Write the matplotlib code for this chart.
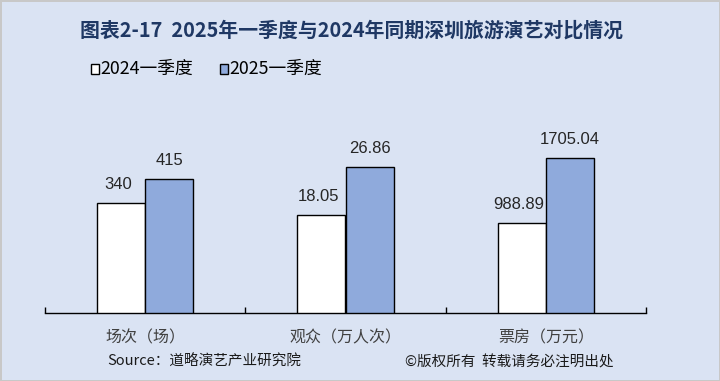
import matplotlib.pyplot as plt

plt.rcParams['font.family'] = ['Noto Sans CJK SC', 'DejaVu Sans']

# data
categories = ['场次（场）', '观众（万人次）', '票房（万元）']
q1_2024 = [340, 18.05, 988.89]
q1_2025 = [415, 26.86, 1705.04]
labels_2024 = ['340', '18.05', '988.89']
labels_2025 = ['415', '26.86', '1705.04']
# each group has its own value scale
axis_max = [566, 33.7, 2010]

title = '图表2-17  2025年一季度与2024年同期深圳旅游演艺对比情况'
series_names = ['2024一季度', '2025一季度']
source = 'Source：道略演艺产业研究院'
copyright_text = '©版权所有  转载请务必注明出处'

bg = '#DAE3F3'
blue = '#8FAADC'
num_font = ['Liberation Sans', 'DejaVu Sans']

fig = plt.figure(figsize=(7.2, 3.81), dpi=100)
fig.patch.set_facecolor(bg)
fig.patch.set_edgecolor('#C8C8C8')
fig.patch.set_linewidth(2)

ax = fig.add_axes([45 / 720, 1 - 313 / 381, 601 / 720, 183 / 381])
ax.set_facecolor('none')
ax.set_xlim(-0.5, 2.5)
ax.set_yticks([])
for s in ['left', 'right', 'top']:
    ax.spines[s].set_visible(False)
ax.spines['bottom'].set_linewidth(1)
ax.set_xticks([-0.5, 0.5, 1.5, 2.5])
ax.set_xticklabels([])
ax.tick_params(axis='x', direction='in', length=4, width=1)
ax.set_xticks(range(3), minor=True)
ax.set_xticklabels(categories, minor=True, fontsize=11.5, color='#404040')
ax.tick_params(axis='x', which='minor', length=0, pad=12)

w = 0.24
for i in range(3):
    tw = ax.twinx()
    tw.set_ylim(0, axis_max[i])
    tw.axis('off')
    tw.bar(i - w / 2, q1_2024[i], w, color='white', edgecolor='black', linewidth=1)
    tw.bar(i + w / 2, q1_2025[i], w, color=blue, edgecolor='black', linewidth=1)
    tw.annotate(labels_2024[i], (i - w / 2, q1_2024[i]), xytext=(-2, 8), textcoords='offset points',
                ha='center', va='bottom', fontsize=12, color='#262626', family=num_font)
    tw.annotate(labels_2025[i], (i + w / 2, q1_2025[i]), xytext=(0, 8), textcoords='offset points',
                ha='center', va='bottom', fontsize=12, color='#262626', family=num_font)

fig.text(351 / 720, 1 - 30 / 381, title, ha='center', va='center', fontsize=14.3,
         fontweight='bold', color='#1F3864')

# legend
for x0, col, name in [(91, 'white', series_names[0]), (220, blue, series_names[1])]:
    fig.patches.append(plt.Rectangle((x0 / 720, 1 - 74 / 381), 8 / 720, 10 / 381,
                                     facecolor=col, edgecolor='black', linewidth=1,
                                     transform=fig.transFigure))
    fig.text((x0 + 9) / 720, 1 - 69 / 381, name, ha='left', va='center', fontsize=12.8,
             color='black')

fig.text(107 / 720, 1 - 362 / 381, source, ha='left', va='center', fontsize=10.5, color='#1a1a1a')
fig.text(405 / 720, 1 - 362 / 381, copyright_text, ha='left', va='center', fontsize=10.5,
         color='#1a1a1a')

fig.savefig('out.png', dpi=100, facecolor=bg, edgecolor='#C8C8C8')
